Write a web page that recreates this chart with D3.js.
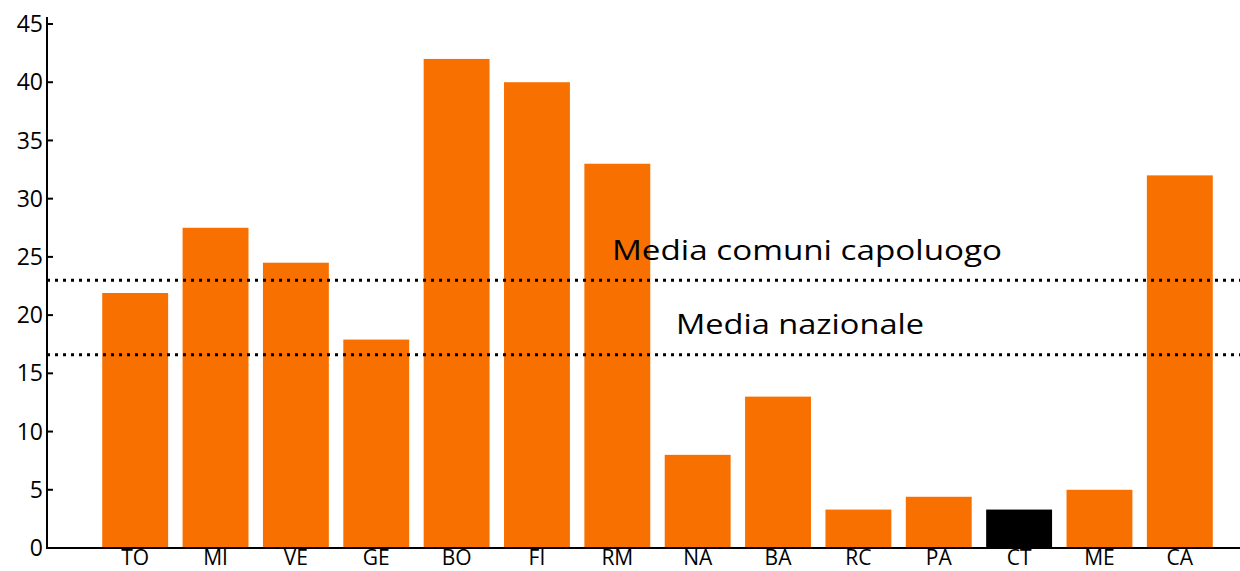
<!DOCTYPE html>
<html>
<head>
<meta charset="utf-8">
<script src="https://cdn.jsdelivr.net/npm/d3@7"></script>
<style>
  html, body { margin: 0; padding: 0; background: #fff; }
  svg { display: block; }
  text { font-family: "Open Sans", "Noto Sans", sans-serif; fill: #000; }
</style>
</head>
<body>
<svg id="chart" width="1240" height="571"></svg>
<script>
const categories = ["TO", "MI", "VE", "GE", "BO", "FI", "RM", "NA", "BA", "RC", "PA", "CT", "ME", "CA"];
const values = [21.9, 27.5, 24.5, 17.9, 42, 40, 33, 8, 13, 3.3, 4.4, 3.3, 5, 32];
const highlight = ["CT"];
const yTicks = [0, 5, 10, 15, 20, 25, 30, 35, 40, 45];
const refLines = [
  { label: "Media comuni capoluogo", value: 23.0 },
  { label: "Media nazionale", value: 16.6 }
];

const svg = d3.select("#chart");
const W = 1240, H = 571;
const axisX = 47, baseY = 548;

const x = d3.scaleBand().domain(categories).range([95, 1220]).paddingInner(0.18).paddingOuter(0.09);
const y = d3.scaleLinear().domain([0, 45]).range([baseY, 24]);

// bars
svg.append("g").selectAll("rect").data(categories).join("rect")
  .attr("x", d => x(d))
  .attr("width", x.bandwidth())
  .attr("y", (d, i) => y(values[i]))
  .attr("height", (d, i) => y(0) - y(values[i]))
  .attr("fill", d => highlight.includes(d) ? "#000000" : "#f87000");

// reference lines
const ref = svg.append("g");
ref.selectAll("line").data(refLines).join("line")
  .attr("x1", axisX).attr("x2", W)
  .attr("y1", d => y(d.value)).attr("y2", d => y(d.value))
  .attr("stroke", "#000").attr("stroke-width", 3)
  .attr("stroke-dasharray", "3,5");
const labelPos = [{ cx: 807, by: 260, len: 390 }, { cx: 800, by: 334, len: 248 }];
ref.selectAll("text").data(refLines).join("text")
  .attr("x", (d, i) => labelPos[i].cx)
  .attr("y", (d, i) => labelPos[i].by)
  .attr("text-anchor", "middle")
  .attr("font-size", 28)
  .attr("textLength", (d, i) => labelPos[i].len)
  .attr("lengthAdjust", "spacingAndGlyphs")
  .text(d => d.label);

// y axis
const yAxis = svg.append("g").attr("transform", `translate(${axisX},0)`);
yAxis.append("line").attr("x1", 0).attr("x2", 0).attr("y1", 17).attr("y2", baseY + 1)
  .attr("stroke", "#000").attr("stroke-width", 2);
const yt = yAxis.selectAll("g.tick").data(yTicks).join("g").attr("class", "tick")
  .attr("transform", d => `translate(0,${y(d)})`);
yt.append("line").attr("x1", 0).attr("x2", 6).attr("stroke", "#000").attr("stroke-width", 2);
yt.append("text").attr("x", -4).attr("dy", "0.35em").attr("text-anchor", "end")
  .attr("font-size", 23).text(d => d);

// x axis
const xAxis = svg.append("g").attr("transform", `translate(0,${baseY})`);
xAxis.append("line").attr("x1", axisX).attr("x2", W).attr("stroke", "#000").attr("stroke-width", 2);
xAxis.selectAll("text").data(categories).join("text")
  .attr("x", d => x(d) + x.bandwidth() / 2)
  .attr("y", 17)
  .attr("text-anchor", "middle")
  .attr("font-size", 21)
  .text(d => d);
</script>
</body>
</html>
